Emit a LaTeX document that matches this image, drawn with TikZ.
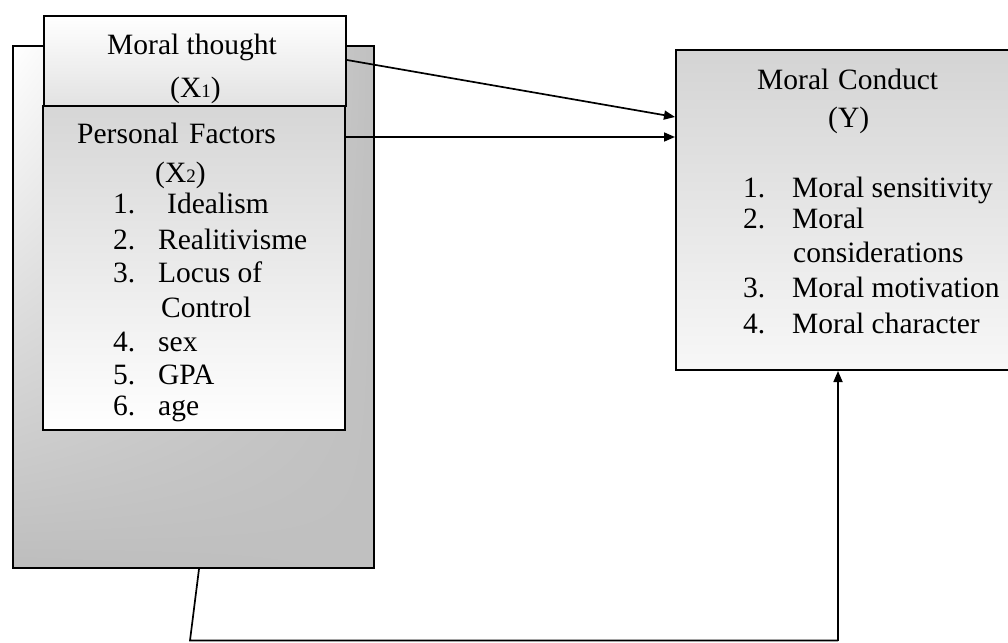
\documentclass[tikz,border=0pt]{standalone}
\usepackage{fontspec}
\setmainfont{Liberation Serif}
\usetikzlibrary{arrows.meta,calc,shadings}
\definecolor{backgray}{HTML}{C0C0C0}
\definecolor{backlow}{HTML}{BDBDBD}
\definecolor{mtlow}{HTML}{E2E2E2}
\definecolor{pftop}{HTML}{D6D6D6}
\definecolor{mctop}{HTML}{D4D4D4}
\newcommand\mysub[1]{{\fontsize{19}{19}\selectfont #1}}
\newcommand\numA[1]{\makebox[45pt][l]{#1}}
\newcommand\numB[1]{\makebox[49pt][l]{#1}}
\begin{document}
\begin{tikzpicture}[x=1pt,y=-1pt,
  box/.style={draw, line width=2pt, inner sep=0pt, anchor=north west},
  txt/.style={anchor=base west, inner sep=0pt, font=\fontsize{29.5}{34}\selectfont},
  conn/.style={line width=1.7pt},
  arr/.style={conn, -{Triangle[length=11pt,width=9pt]}}]
\useasboundingbox (0,0) rectangle (1008,642);

% boxes
\node[box, minimum width=361pt, minimum height=522pt,
  upper left=white, upper right=backgray, lower left=backlow, lower right=backgray]
  (back) at (12,45) {};
\node[box, minimum width=302pt, minimum height=90pt, top color=white, bottom color=mtlow]
  (mt) at (43,15) {};
\node[box, minimum width=302pt, minimum height=324pt, top color=pftop, bottom color=white]
  (pf) at (42,105) {};
\node[box, minimum width=340pt, minimum height=320pt, top color=mctop, bottom color=white!97!black]
  (mc) at (675,49) {};

% texts in Moral thought
\node[txt] (mt1) at (107,55) {Moral thought};
\node[txt] (mt2) at (170,97) {(X\mysub{1})};

% texts in Personal Factors
\node[txt] (pf1) at (77,143) {Personal\hspace{0.35em}Factors};
\node[txt] (pf2) at (155,182) {(X\mysub{2})};
\node[txt] (pfa) at (113,213) {\numA{1.}\hspace{9pt}Idealism};
\node[txt] (pfb) at (113,249) {\numA{2.}Realitivisme};
\node[txt] (pfc) at (113,282) {\numA{3.}Locus of};
\node[txt] (pfd) at (161,317) {Control};
\node[txt] (pfe) at (113,351) {\numA{4.}sex};
\node[txt] (pff) at (113,384) {\numA{5.}GPA};
\node[txt] (pfg) at (113,415) {\numA{6.}age};

% texts in Moral Conduct
\node[txt] (mc1) at (757,89) {Moral\hspace{0.3em}Conduct};
\node[txt] (mc2) at (828,127) {(Y)};
\node[txt] (mca) at (743,197) {\numB{1.}Moral sensitivity};
\node[txt] (mcb) at (743,228) {\numB{2.}Moral};
\node[txt] (mcc) at (793,262) {considerations};
\node[txt] (mcd) at (743,297) {\numB{3.}Moral motivation};
\node[txt] (mce) at (743,333) {\numB{4.}Moral character};

% connectors
\coordinate (a1s) at ($(mt.north east)+(0,45)$);
\coordinate (a1e) at ($(mc.north west)+(0,68)$);
\draw[arr] (a1s) -- (a1e);
\coordinate (a2s) at ($(pf.north east)+(0,32)$);
\draw[arr] (a2s) -- (a2s -| mc.west);
\coordinate (b0) at ($(back.south west)+(187,0)$);
\coordinate (b1) at (190,640.5);
\coordinate (b3) at ($(mc.south west)+(163,0)$);
\coordinate (b2) at (b1 -| b3);
\draw[conn] (b0) -- (b1) -- (b2);
\draw[arr] (b2) -- (b3);
\end{tikzpicture}
\end{document}
